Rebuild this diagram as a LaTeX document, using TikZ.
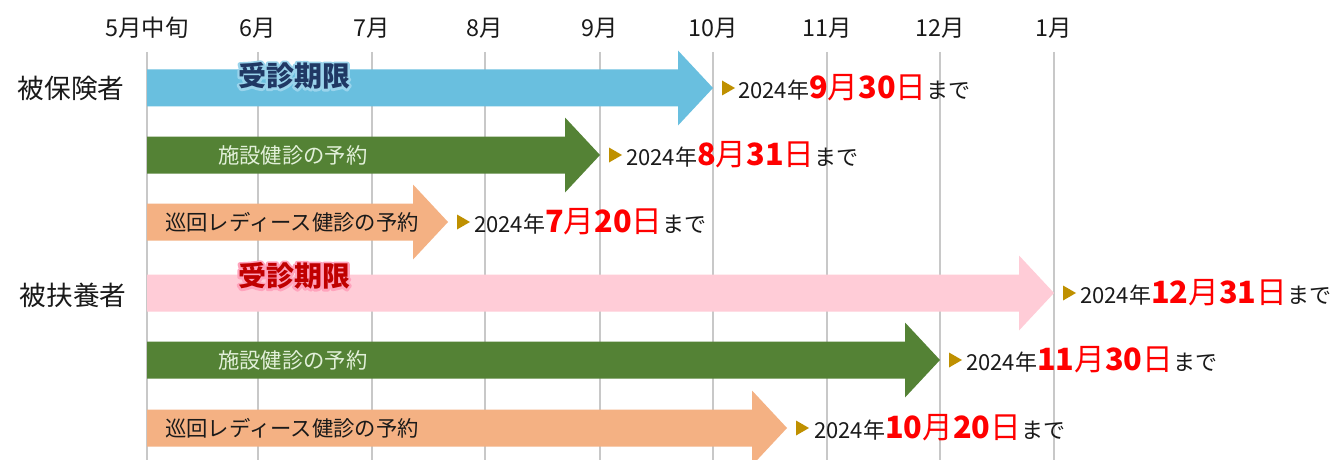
\documentclass[tikz,border=0pt]{standalone}
\usepackage{fontspec}
\setmainfont{Noto Sans CJK JP}
\definecolor{gridc}{HTML}{C8C8C8}
\definecolor{barblue}{HTML}{69BFDF}
\definecolor{bargreen}{HTML}{548235}
\definecolor{barorange}{HTML}{F4B183}
\definecolor{barpink}{HTML}{FFCCD7}
\definecolor{tri}{HTML}{BF9000}
\definecolor{dred}{HTML}{FF0000}
\definecolor{navy}{HTML}{203864}
\definecolor{glowblue}{HTML}{9AD4EC}
\definecolor{maroon}{HTML}{C00000}
\definecolor{glowpink}{HTML}{FFA3BC}
\definecolor{lgreen}{HTML}{E2F0D9}
\definecolor{txt}{HTML}{1A1A1A}
\newcommand\fs[1]{\fontsize{#1}{#1}\selectfont}
\newcommand\bigdate[2]{\textcolor{dred}{\fs{23}\bfseries #1\mdseries 月\bfseries #2\mdseries 日}}
\newcommand\strokedtext[1]{\special{pdf:literal direct 1 Tr 3.4 w 1 j 1 J}#1\special{pdf:literal direct 0 Tr}}
\newcommand\barshape[3]{%
  \fill[#3] (147,#2-18.5) -- (#1-35,#2-18.5) -- (#1-35,#2-37.5) -- (#1,#2)
    -- (#1-35,#2+37.5) -- (#1-35,#2+18.5) -- (147,#2+18.5) -- cycle;
  \fill[tri] (#1+9,#2-7.5) -- (#1+22,#2) -- (#1+9,#2+7.5) -- cycle;}
\tikzset{
  gridline/.style={gridc, line width=2.2pt},
  month/.style={font=\fs{17.5}, text=txt, inner sep=0pt},
  rowlab/.style={font=\fs{20}, text=txt, inner sep=0pt},
  datelab/.style={anchor=west, font=\fs{16.5}, text=txt, inner sep=0pt},
  greenlab/.style={anchor=west, font=\fs{16}, text=lgreen, inner sep=0pt},
  orangelab/.style={anchor=west, font=\fs{16}, text=txt, inner sep=0pt},
  limitlab/.style={font=\fs{21}\bfseries, inner sep=0pt},
}
\begin{document}
\begin{tikzpicture}[x=0.75pt,y=-0.75pt]
\useasboundingbox[fill=white] (0,0) rectangle (1342,460);
% grid
\foreach \x/\m [count=\i] in {147/5月中旬,258/6月,372/7月,485/8月,600/9月,713/10月,827/11月,940/12月,1054/1月}{
  \draw[gridline] (\x,52) -- (\x,460);
  \node[month] (m\i) at (\x,28) {\m};
}
% row labels
\node[rowlab] (ins) at (71,88) {被保険者};
\node[rowlab] (dep) at (73,295) {被扶養者};
% bars
\barshape{713}{88}{barblue}
\barshape{600}{155}{bargreen}
\barshape{448}{222}{barorange}
\barshape{1054}{293}{barpink}
\barshape{940}{360}{bargreen}
\barshape{787}{428}{barorange}
% bar labels
\node[limitlab, text=glowblue] (glow1) at (294,76) {\strokedtext{受診期限}};
\node[limitlab, text=navy] (lim1) at (glow1) {受診期限};
\node[greenlab] (b2) at (218,155) {施設健診の予約};
\node[orangelab] (b3) at (165,222) {巡回レディース健診の予約};
\node[limitlab, text=glowpink] (glow2) at (294,276) {\strokedtext{受診期限}};
\node[limitlab, text=maroon] (lim2) at (glow2) {受診期限};
\node[greenlab] (b5) at (218,360) {施設健診の予約};
\node[orangelab] (b6) at (165,428) {巡回レディース健診の予約};
% dates
\node[datelab] (d1) at (738,88) {2024年\bigdate{9}{30}まで};
\node[datelab] (d2) at (626,155) {2024年\bigdate{8}{31}まで};
\node[datelab] (d3) at (474,222) {2024年\bigdate{7}{20}まで};
\node[datelab] (d4) at (1080,293) {2024年\bigdate{12}{31}まで};
\node[datelab] (d5) at (966,360) {2024年\bigdate{11}{30}まで};
\node[datelab] (d6) at (814,428) {2024年\bigdate{10}{20}まで};
\end{tikzpicture}
\end{document}
